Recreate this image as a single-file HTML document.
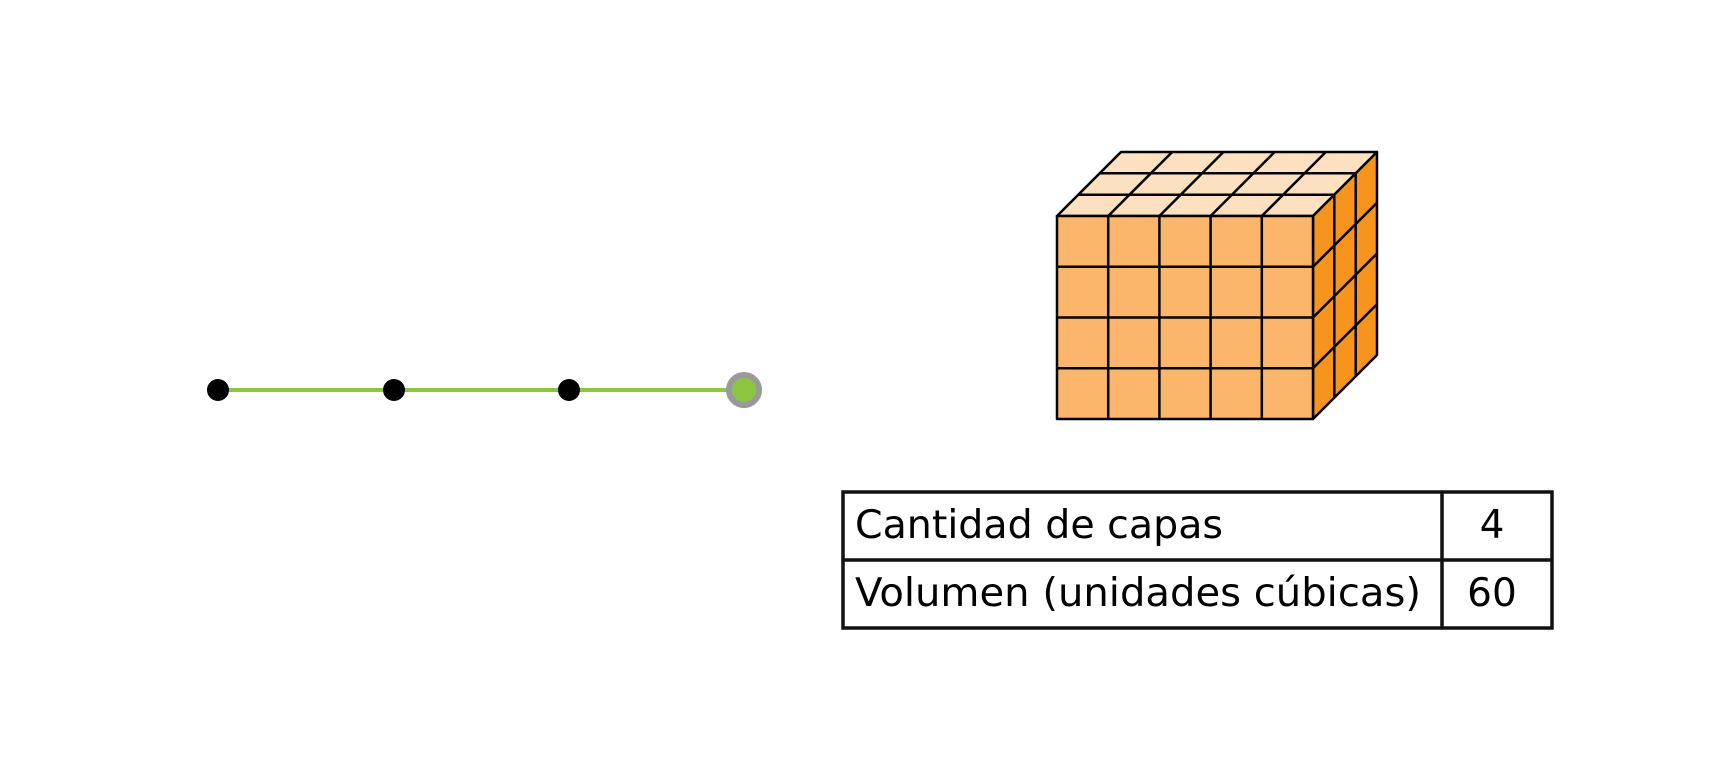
<!DOCTYPE html>
<html><head><meta charset="utf-8"><style>
html,body{margin:0;padding:0;background:#fff;}
svg{display:block}
text{font-family:"DejaVu Sans","Liberation Sans",sans-serif;font-size:39px;fill:#000}
</style></head><body>
<svg width="1720" height="780" viewBox="0 0 1720 780" xmlns="http://www.w3.org/2000/svg">
<rect width="1720" height="780" fill="#fff"/>
<line x1="218" y1="390" x2="744" y2="390" stroke="#8cc63f" stroke-width="4"/>
<circle cx="218" cy="390" r="11" fill="#000"/>
<circle cx="394" cy="390" r="11" fill="#000"/>
<circle cx="569" cy="390" r="11" fill="#000"/>
<circle cx="744" cy="390" r="15" fill="#8cc63f" stroke="#999" stroke-width="6"/>
<g stroke="#000" stroke-width="2.5" stroke-linejoin="round">
<polygon points="1057,216 1313,216 1377,152 1121,152" fill="#fde0c0"/>
<polygon points="1313,216 1377,152 1377,355 1313,419" fill="#f7941d"/>
<rect x="1057" y="216" width="256" height="203" fill="#fbb66c"/>
<line x1="1108.2" y1="216" x2="1108.2" y2="419"/>
<line x1="1159.4" y1="216" x2="1159.4" y2="419"/>
<line x1="1210.6" y1="216" x2="1210.6" y2="419"/>
<line x1="1261.8" y1="216" x2="1261.8" y2="419"/>
<line x1="1057" y1="266.75" x2="1313" y2="266.75"/>
<line x1="1057" y1="317.5" x2="1313" y2="317.5"/>
<line x1="1057" y1="368.25" x2="1313" y2="368.25"/>
<line x1="1078.3" y1="194.7" x2="1334.3" y2="194.7"/>
<line x1="1099.7" y1="173.3" x2="1355.7" y2="173.3"/>
<line x1="1108.2" y1="216" x2="1172.2" y2="152"/>
<line x1="1159.4" y1="216" x2="1223.4" y2="152"/>
<line x1="1210.6" y1="216" x2="1274.6" y2="152"/>
<line x1="1261.8" y1="216" x2="1325.8" y2="152"/>
<line x1="1334.3" y1="194.7" x2="1334.3" y2="397.7"/>
<line x1="1355.7" y1="173.3" x2="1355.7" y2="376.3"/>
<line x1="1313" y1="266.75" x2="1377" y2="202.75"/>
<line x1="1313" y1="317.5" x2="1377" y2="253.5"/>
<line x1="1313" y1="368.25" x2="1377" y2="304.25"/>
</g>
<g stroke="#111" stroke-width="3.5" fill="none">
<rect x="843" y="492" width="709" height="136"/>
<line x1="843" y1="560" x2="1552" y2="560"/>
<line x1="1442" y1="492" x2="1442" y2="628"/>
</g>
<text x="855" y="538" textLength="368" lengthAdjust="spacingAndGlyphs">Cantidad de capas</text>
<text x="855" y="606" textLength="566" lengthAdjust="spacingAndGlyphs">Volumen (unidades cúbicas)</text>
<text x="1492" y="538" text-anchor="middle">4</text>
<text x="1492" y="606" text-anchor="middle">60</text>
</svg>
</body></html>
